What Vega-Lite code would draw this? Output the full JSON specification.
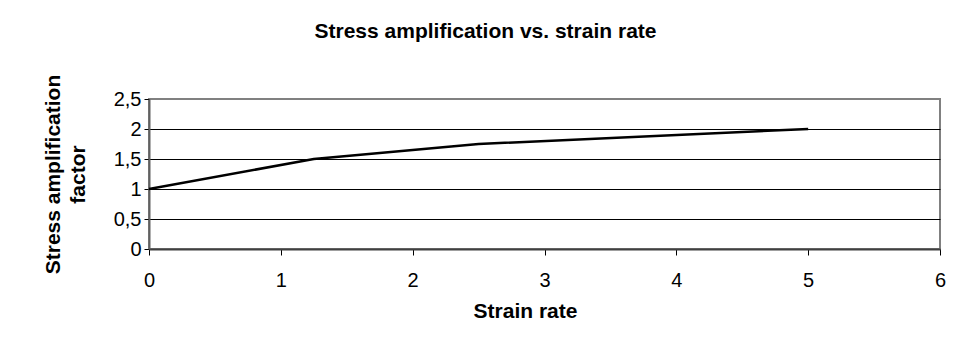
{
  "$schema": "https://vega.github.io/schema/vega-lite/v6.json",
  "width": 791,
  "height": 150,
  "autosize": {"type": "none"},
  "padding": {"left": 149, "top": 99, "right": 16, "bottom": 107},
  "background": "white",
  "config": {
    "font": "Liberation Sans",
    "view": {"stroke": "#808080", "strokeWidth": 2}
  },
  "title": {
    "text": "Stress amplification vs. strain rate",
    "font": "Liberation Sans",
    "fontSize": 21,
    "fontWeight": "bold",
    "color": "black",
    "anchor": "middle",
    "dx": -59,
    "dy": 3,
    "offset": 35
  },
  "data": {
    "values": [
      {"strain_rate": 0, "factor": 1},
      {"strain_rate": 1.25, "factor": 1.5},
      {"strain_rate": 2.5, "factor": 1.75},
      {"strain_rate": 5, "factor": 2}
    ]
  },
  "mark": {"type": "line", "color": "black", "strokeWidth": 2.5},
  "encoding": {
    "x": {
      "field": "strain_rate",
      "type": "quantitative",
      "scale": {"domain": [0, 6], "nice": false, "zero": false},
      "axis": {
        "title": "Strain rate",
        "titleFontSize": 21,
        "titleFontWeight": "bold",
        "titleColor": "black",
        "titleX": 376,
        "titlePadding": 10,
        "values": [0, 1, 2, 3, 4, 5, 6],
        "grid": false,
        "labelFontSize": 20,
        "labelColor": "black",
        "labelPadding": 15,
        "labelFlush": false,
        "tickColor": "black",
        "tickSize": 6,
        "domainColor": "#404040",
        "domainWidth": 2
      }
    },
    "y": {
      "field": "factor",
      "type": "quantitative",
      "scale": {"domain": [0, 2.5], "nice": false},
      "axis": {
        "title": ["Stress amplification", "factor"],
        "titleFontSize": 21,
        "titleFontWeight": "bold",
        "titleColor": "black",
        "titleLineHeight": 25,
        "titleX": -86,
        "titleY": 75,
        "titleAngle": -90,
        "titleBaseline": "bottom",
        "values": [0, 0.5, 1, 1.5, 2, 2.5],
        "labelExpr": "replace(format(datum.value, ''), '.', ',')",
        "labelFontSize": 20,
        "labelColor": "black",
        "labelPadding": 3,
        "labelFlush": false,
        "tickColor": "black",
        "tickSize": 5,
        "grid": true,
        "gridColor": {"condition": {"test": "datum.value == 2.5 || datum.value == 0", "value": "#808080"}, "value": "black"},
        "gridOpacity": 1,
        "gridWidth": 1,
        "domainColor": "#606060",
        "domainWidth": 2
      }
    }
  }
}
